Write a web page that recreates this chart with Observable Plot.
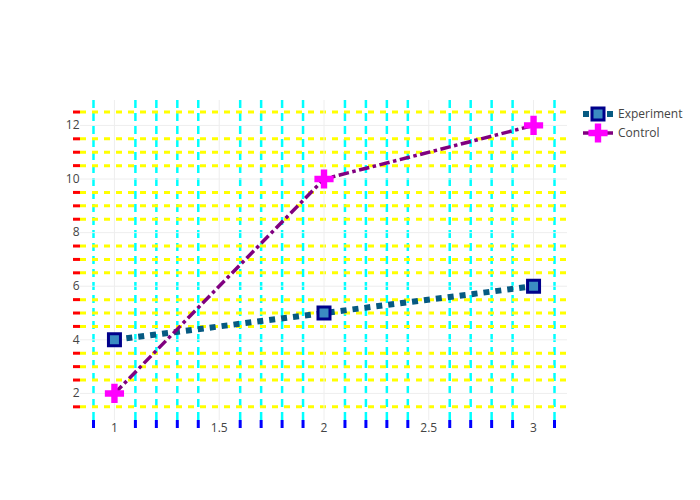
<!DOCTYPE html>
<html>
<head>
<meta charset="utf-8">
<script src="https://cdn.jsdelivr.net/npm/d3@7"></script>
<script src="https://cdn.jsdelivr.net/npm/@observablehq/plot@0.6"></script>
<style>
  html, body { margin: 0; padding: 0; background: #fff; }
  #chart { position: relative; width: 700px; height: 500px; font-family: "Open Sans", sans-serif; }
  #chart svg.legend { position: absolute; left: 0; top: 0; pointer-events: none; }
</style>
</head>
<body>
<div id="chart"></div>
<script>
// ---- data ----
const xValues = [1, 2, 3];
const experiment = [4, 5, 6];
const control = [2, 10, 12];
const seriesNames = ["Experiment", "Control"];

// tick values
const xMajorTicks = [1, 1.5, 2, 2.5, 3];
const yMajorTicks = [2, 4, 6, 8, 10, 12];
const xMinorTicks = [0.9, 1.1, 1.2, 1.3, 1.4, 1.6, 1.7, 1.8, 1.9, 2.1, 2.2, 2.3, 2.4, 2.6, 2.7, 2.8, 2.9, 3.1];
const yMinorTicks = [1.5, 2.5, 3, 3.5, 4.5, 5, 5.5, 6.5, 7, 7.5, 8.5, 9, 9.5, 10.5, 11, 11.5, 12.5];

const table = xValues.map((x, i) => ({x, experiment: experiment[i], control: control[i]}));

// ---- styles ----
const expLine = {stroke: "#065a82", strokeWidth: 6, strokeDasharray: "6,6"};
const expMarker = {symbol: "square", r: 6.77, fill: "#3b8bc2", stroke: "#00008b", strokeWidth: 3};
const ctlLine = {stroke: "#800080", strokeWidth: 3.5, strokeDasharray: "10.5,3.5,3.5,3.5"};
const ctlMarker = {symbol: "cross", r: 8.07, fill: "#ff00ff", stroke: "none"};

const plot = Plot.plot({
  width: 700,
  height: 500,
  marginTop: 100,
  marginRight: 133,
  marginBottom: 80,
  marginLeft: 80,
  style: {fontFamily: "'Open Sans', sans-serif", fontSize: "12px", color: "#444", background: "#fff"},
  x: {domain: [0.838, 3.162], label: null},
  y: {domain: [0.99, 12.93], label: null},
  marks: [
    // minor grids
    Plot.ruleX(xMinorTicks, {stroke: "#00ffff", strokeWidth: 2.5, strokeDasharray: "8,5"}),
    Plot.ruleY(yMinorTicks, {stroke: "#ffff00", strokeWidth: 3, strokeDasharray: "6,6"}),
    // major grids
    Plot.gridX(xMajorTicks, {stroke: "#eeeeee", strokeOpacity: 1, strokeWidth: 1}),
    Plot.gridY(yMajorTicks, {stroke: "#eeeeee", strokeOpacity: 1, strokeWidth: 1}),
    // minor ticks
    Plot.axisX(xMinorTicks, {tickSize: 8, stroke: "#0000ff", strokeWidth: 3, strokeOpacity: 1, tickFormat: () => ""}),
    Plot.axisY(yMinorTicks, {tickSize: 7, stroke: "#ff0000", strokeWidth: 3, strokeOpacity: 1, tickFormat: () => ""}),
    // major labels
    Plot.axisX(xMajorTicks, {tickSize: 0, tickPadding: 3, fill: "#444", fontSize: 12, tickFormat: d3.format("")}),
    Plot.axisY(yMajorTicks, {tickSize: 0, tickPadding: 1, fill: "#444", fontSize: 12, tickFormat: d3.format("")}),
    // Experiment
    Plot.line(table, {x: "x", y: "experiment", ...expLine, strokeLinecap: "butt", strokeLinejoin: "miter"}),
    Plot.dot(table, {x: "x", y: "experiment", ...expMarker}),
    // Control
    Plot.line(table, {x: "x", y: "control", ...ctlLine, strokeLinecap: "butt", strokeLinejoin: "miter"}),
    Plot.dot(table, {x: "x", y: "control", ...ctlMarker})
  ]
});

const chart = document.getElementById("chart");
chart.appendChild(plot);

// ---- legend (overlay) ----
const legendItems = [
  {name: seriesNames[0], line: expLine, marker: expMarker},
  {name: seriesNames[1], line: ctlLine, marker: ctlMarker}
];
const lg = d3.select(chart).append("svg")
  .attr("class", "legend")
  .attr("width", 700).attr("height", 500);
const legendLeft = 583, legendTop = 114, rowGap = 19;
const rows = lg.selectAll("g").data(legendItems).join("g")
  .attr("transform", (d, i) => `translate(${legendLeft},${legendTop + i * rowGap})`);
rows.append("path")
  .attr("d", "M0,0h30")
  .attr("fill", "none")
  .attr("stroke", d => d.line.stroke)
  .attr("stroke-width", d => d.line.strokeWidth)
  .attr("stroke-dasharray", d => d.line.strokeDasharray);
rows.append("path")
  .attr("transform", "translate(15,0)")
  .attr("d", d => d3.symbol(d.marker.symbol === "square" ? d3.symbolSquare : d3.symbolCross, d.marker.r * d.marker.r * Math.PI)())
  .attr("fill", d => d.marker.fill)
  .attr("stroke", d => d.marker.stroke)
  .attr("stroke-width", d => d.marker.strokeWidth || 0);
rows.append("text")
  .attr("x", 35).attr("y", 4)
  .attr("fill", "#444")
  .attr("font-family", "'Open Sans', sans-serif")
  .attr("font-size", 12)
  .text(d => d.name);
</script>
</body>
</html>
